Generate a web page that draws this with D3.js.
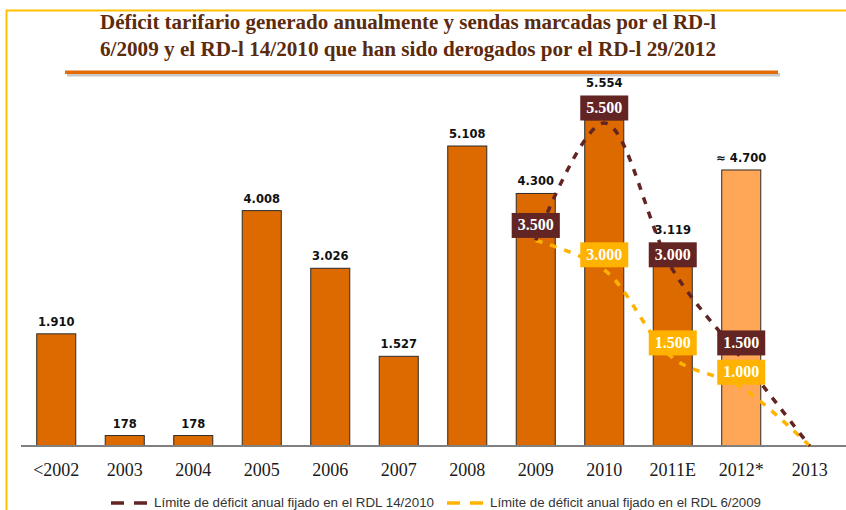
<!DOCTYPE html>
<html>
<head>
<meta charset="utf-8">
<script src="https://cdn.jsdelivr.net/npm/d3@7"></script>
<style>
  body { margin: 0; background: #fff; }
  svg { display: block; }
</style>
</head>
<body>
<div id="chart"></div>
<script>
// categories and values
var categories = ["<2002", "2003", "2004", "2005", "2006", "2007", "2008", "2009", "2010", "2011E", "2012*", "2013"];
var deficit = [1910, 178, 178, 4008, 3026, 1527, 5108, 4300, 5554, 3119, 4700, null];
var estimated = ["2012*"];

var limitYears = ["2009", "2010", "2011E", "2012*", "2013"];
var limitRdl2010 = [3500, 5500, 3000, 1500, 0];
var limitRdl2009 = [3500, 3000, 1500, 1000, 0];

var titleLines = [
  "Déficit tarifario generado anualmente y sendas marcadas por el RD-l",
  "6/2009 y el RD-l 14/2010 que han sido derogados por el RD-l 29/2012"
];
var legendLabels = [
  "Límite de déficit anual fijado en el RDL 14/2010",
  "Límite de déficit anual fijado en el RDL 6/2009"
];

var w = 846, h = 510;
var baseY = 446;
var badgeH = 25, badgeOff = 15;

var es = d3.formatLocale({decimal: ",", thousands: ".", grouping: [3], currency: ["", " €"]});
var fmt = es.format(",d");

var svg = d3.select("#chart").append("svg")
    .attr("width", w)
    .attr("height", h);

// frame (yellow)
svg.append("path")
    .attr("d", "M6.5," + h + "V10.5H" + w)
    .attr("fill", "none")
    .attr("stroke", "#ffc000")
    .attr("stroke-width", 2);

// title
svg.selectAll("text.title")
    .data(titleLines)
  .enter()
  .append("text")
    .attr("class", "title")
    .attr("x", 408)
    .attr("y", function(d, i) { return 29 + i * 27; })
    .attr("text-anchor", "middle")
    .attr("textLength", 616)
    .attr("lengthAdjust", "spacingAndGlyphs")
    .style("font-family", "'Liberation Serif', 'DejaVu Serif', serif")
    .style("font-weight", "bold")
    .style("font-size", "20px")
    .style("fill", "#5b2b0d")
    .text(function(d) { return d; });

// underline with shadow
svg.append("rect").attr("x", 67).attr("y", 73).attr("width", 713).attr("height", 3.5).attr("fill", "#c8c8c8");
svg.append("rect").attr("x", 65).attr("y", 70.5).attr("width", 713).attr("height", 3.5).attr("fill", "#e36c09");

var x = d3.scaleBand()
    .domain(categories)
    .range([22, 844])
    .paddingInner(0.43)
    .paddingOuter(0.215);

var y = d3.scaleLinear()
    .domain([0, 6000])
    .range([baseY, baseY - 6000 * 0.05873]);

var cx = function(c) { return x(c) + x.bandwidth() / 2; };

var bars = categories.map(function(c, i) { return {cat: c, v: deficit[i]}; })
    .filter(function(d) { return d.v != null; });

// limit series
var series = [
  {vals: limitRdl2009, color: "#ffb300"},
  {vals: limitRdl2010, color: "#632523"}
];
series.forEach(function(s) {
  s.pts = limitYears.map(function(c, i) { return {cat: c, v: s.vals[i]}; });
});

// highest badge top per category, so bar labels can sit above it
var badgeTop = {};
series.forEach(function(s) {
  s.pts.forEach(function(d) {
    if (d.v > 0) {
      var t = y(d.v) - badgeOff - badgeH / 2;
      badgeTop[d.cat] = badgeTop[d.cat] == null ? t : Math.min(badgeTop[d.cat], t);
    }
  });
});

// bars
svg.selectAll("rect.bar")
    .data(bars)
  .enter()
  .append("rect")
    .attr("class", "bar")
    .attr("x", function(d) { return x(d.cat); })
    .attr("y", function(d) { return y(d.v); })
    .attr("width", x.bandwidth())
    .attr("height", function(d) { return baseY - y(d.v); })
    .attr("fill", function(d) { return estimated.indexOf(d.cat) >= 0 ? "#ffa657" : "#dc6a00"; })
    .attr("stroke", "#2b2b2b")
    .attr("stroke-width", 1);

// baseline axis
var xAxis = d3.axisBottom(x).tickSize(0).tickPadding(17);
var ax = svg.append("g")
    .attr("transform", "translate(0," + baseY + ")")
    .call(xAxis);
ax.select(".domain")
    .attr("d", "M21,0H" + w)
    .attr("stroke", "#808080")
    .attr("stroke-width", 2);
ax.selectAll("text")
    .style("font-family", "'Liberation Serif', 'DejaVu Serif', serif")
    .style("font-size", "18px")
    .style("fill", "#1a1a1a");

// limit lines
var line = d3.line()
    .x(function(d) { return cx(d.cat); })
    .y(function(d) { return y(d.v); })
    .curve(d3.curveCatmullRom.alpha(0.5));

series.forEach(function(s) {
  svg.append("path")
      .datum(s.pts)
      .attr("d", line)
      .attr("fill", "none")
      .attr("stroke", s.color)
      .attr("stroke-width", 3.5)
      .attr("stroke-dasharray", "7,8");
});

// badges
series.forEach(function(s) {
  var g = svg.selectAll(null)
      .data(s.pts.filter(function(d) { return d.v > 0; }))
    .enter()
    .append("g")
      .attr("transform", function(d) { return "translate(" + cx(d.cat) + "," + (y(d.v) - badgeOff) + ")"; });
  g.append("rect")
      .attr("x", -24)
      .attr("y", -badgeH / 2)
      .attr("width", 48)
      .attr("height", badgeH)
      .attr("fill", s.color);
  g.append("text")
      .attr("y", 5)
      .attr("text-anchor", "middle")
      .style("font-family", "'Liberation Serif', 'DejaVu Serif', serif")
      .style("font-weight", "bold")
      .style("font-size", "16px")
      .style("fill", "#fff")
      .text(function(d) { return fmt(d.v); });
});

// bar value labels (drawn last, above badges where they meet)
svg.selectAll("text.val")
    .data(bars)
  .enter()
  .append("text")
    .attr("class", "val")
    .attr("x", function(d) { return cx(d.cat); })
    .attr("y", function(d) {
      var ly = y(d.v) - 8;
      if (badgeTop[d.cat] != null && badgeTop[d.cat] < ly + 4) ly = badgeTop[d.cat] - 8;
      return ly;
    })
    .attr("text-anchor", "middle")
    .style("font-family", "'DejaVu Sans', sans-serif")
    .style("font-weight", "bold")
    .style("font-size", "11.5px")
    .style("fill", "#111")
    .text(function(d) { return (estimated.indexOf(d.cat) >= 0 ? "≈ " : "") + fmt(d.v); });

// legend
var legend = [
  {label: legendLabels[0], color: "#632523", x0: 111, tx: 154, tw: 280},
  {label: legendLabels[1], color: "#ffb300", x0: 447, tx: 490, tw: 271}
];
legend.forEach(function(l) {
  svg.append("line")
      .attr("x1", l.x0).attr("x2", l.x0 + 36)
      .attr("y1", 503).attr("y2", 503)
      .attr("stroke", l.color)
      .attr("stroke-width", 3.5)
      .attr("stroke-dasharray", "13,10");
  svg.append("text")
      .attr("x", l.tx)
      .attr("y", 507)
      .attr("textLength", l.tw)
      .attr("lengthAdjust", "spacingAndGlyphs")
      .style("font-family", "'Liberation Sans', Arial, sans-serif")
      .style("font-size", "12px")
      .style("fill", "#333")
      .text(l.label);
});
</script>
</body>
</html>
